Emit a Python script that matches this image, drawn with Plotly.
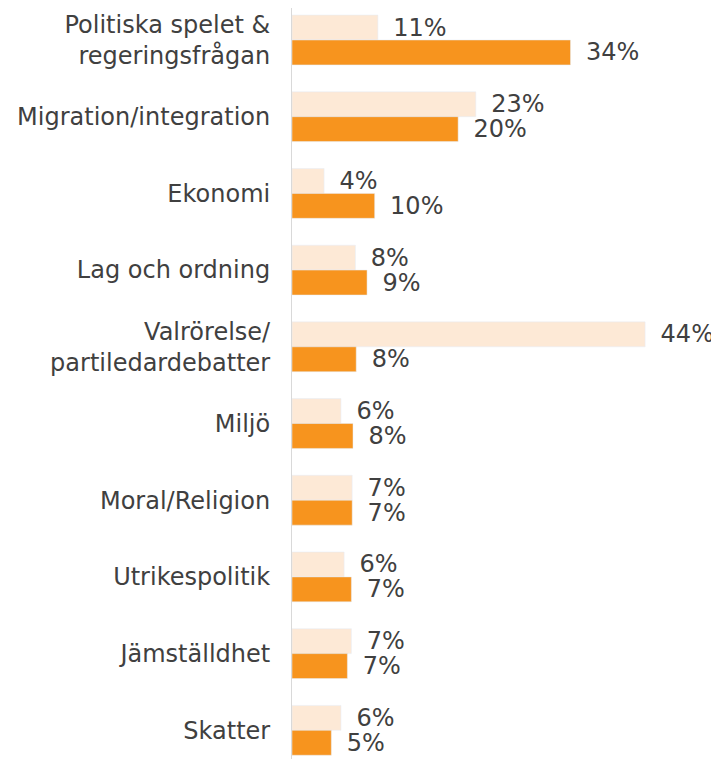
import plotly.graph_objects as go

categories = ["Politiska spelet &<br>regeringsfrågan", "Migration/integration", "Ekonomi",
              "Lag och ordning", "Valrörelse/<br>partiledardebatter", "Miljö",
              "Moral/Religion", "Utrikespolitik", "Jämställdhet", "Skatter"]
series_a = [10.7, 22.9, 4.0, 7.9, 44.0, 6.1, 7.5, 6.5, 7.4, 6.1]
series_b = [34.7, 20.7, 10.3, 9.35, 8.0, 7.6, 7.5, 7.4, 6.9, 4.9]
labels_a = ["11%", "23%", "4%", "8%", "44%", "6%", "7%", "6%", "7%", "6%"]
labels_b = ["34%", "20%", "10%", "9%", "8%", "8%", "7%", "7%", "7%", "5%"]

pad = "\u00a0\u2009"
font = dict(family="DejaVu Sans, Verdana, sans-serif", size=24, color="#404040")

fig = go.Figure()
fig.add_trace(go.Bar(y=categories, x=series_a, orientation="h", marker_color="#FDE9D6",
                     text=[pad + t for t in labels_a], textposition="outside",
                     constraintext="none",
                     textfont=font, cliponaxis=False, name="A"))
fig.add_trace(go.Bar(y=categories, x=series_b, orientation="h", marker_color="#F7941E",
                     text=[pad + t for t in labels_b], textposition="outside",
                     constraintext="none",
                     textfont=font, cliponaxis=False, name="B"))

fig.update_layout(
    width=711, height=751, barmode="group", bargap=0.35, bargroupgap=0,
    margin=dict(l=284, r=0, t=0, b=0, autoexpand=False), showlegend=False,
    plot_bgcolor="white", paper_bgcolor="white", font=font,
)
fig.update_xaxes(range=[0, 53.2], visible=False, automargin=False)
fig.update_yaxes(range=[9.374, -0.417], showgrid=False, showline=True, linecolor="#D9D9D9",
                 linewidth=1, ticks="", ticklabelstandoff=16, tickfont=font, zeroline=False,
                 automargin=False)
fig.write_html("out.html")
